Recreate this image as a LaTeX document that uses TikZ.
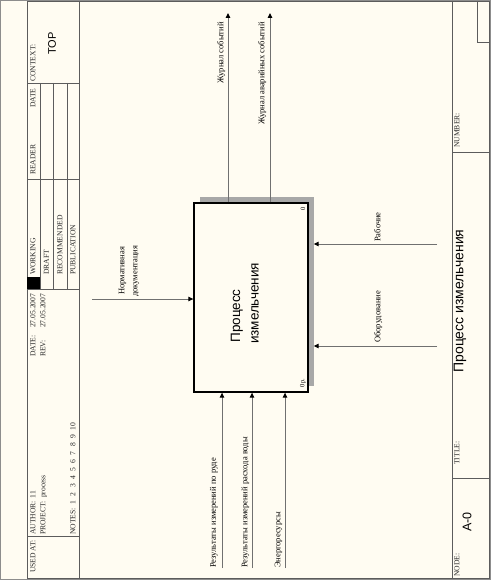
\documentclass[tikz,border=0pt]{standalone}
\usepackage{fontspec}
\setmainfont{Liberation Serif}
\newfontfamily\sansf{Liberation Sans}
\usetikzlibrary{arrows.meta}
\definecolor{bgc}{HTML}{FFFCF2}
\definecolor{framec}{HTML}{5C5C5C}
\definecolor{linec}{HTML}{707070}
\definecolor{shadc}{HTML}{A8A8A8}
\newcommand{\ns}{\hspace{4.4pt}}
\begin{document}
\begin{tikzpicture}[x=1pt,y=-1pt,
  frameline/.style={draw=framec,line width=0.8pt},
  ftext/.style={font=\fontsize{7.6}{9}\selectfont,rotate=90,anchor=mid west,inner sep=0pt,text=black!85},
  bigsans/.style={font=\sansf\fontsize{#1}{#1}\selectfont,rotate=90,inner sep=0pt},
  lbl/.style={font=\fontsize{8.5}{10}\selectfont,rotate=90,inner sep=0pt},
  arr/.style={draw=linec,line width=1pt,-{Triangle[length=5pt,width=4.5pt,color=black]}},
  actbox/.style={draw=black,line width=1.3pt,fill=bgc,minimum width=114pt,minimum height=189pt,inner sep=0pt},
  shadowbox/.style={fill=shadc,minimum width=114pt,minimum height=189pt,inner sep=0pt},
  corner/.style={font=\fontsize{6.5}{7}\selectfont,rotate=90,inner sep=0pt}
]
\useasboundingbox (0,0) rectangle (491,580);
\fill[bgc] (0,0) rectangle (491,580);
\draw[framec!70,line width=0.8pt] (0.4,0.4) rectangle (490.6,579.6);
% frame
\draw[frameline] (27,1) rectangle (489.5,578.5);
\draw[frameline] (79,1) -- (79,578.5);
\draw[frameline] (27,83) -- (79,83);
\draw[frameline] (27,179) -- (79,179);
\draw[frameline] (27,289) -- (79,289);
\draw[frameline] (27,536) -- (79,536);
\draw[frameline] (40,83) -- (40,289);
\draw[frameline] (53,83) -- (53,289);
\draw[frameline] (67,83) -- (67,289);
\fill[black] (27,277) rectangle (40,289);
\draw[frameline] (452,1) -- (452,578.5);
\draw[frameline] (452,152) -- (489.5,152);
\draw[frameline] (452,478) -- (489.5,478);
\draw[frameline] (477,1) -- (477,42) -- (489.5,42);
% header texts
\node[ftext] (usedat) at (33,573) {USED AT:};
\node[ftext] (author) at (33,535) {AUTHOR:\hspace{3pt}11};
\node[ftext] (project) at (43,535) {PROJECT:\hspace{3pt}process};
\node[ftext] (notes) at (73,535) {NOTES:\hspace{4pt}1\ns2\ns3\ns4\ns5\ns6\ns7\ns8\ns9\ns10};
\node[ftext] (datel) at (33,357) {DATE:};
\node[ftext] (datev) at (33,328) {27.05.2007};
\node[ftext] (revl) at (43,357) {REV:};
\node[ftext] (revv) at (43,328) {27.05.2007};
\node[ftext] (working) at (33,275) {WORKING};
\node[ftext] (draft) at (46.5,275) {DRAFT};
\node[ftext] (recom) at (60,275) {RECOMMENDED};
\node[ftext] (publ) at (73,275) {PUBLICATION};
\node[ftext] (reader) at (33,175) {READER};
\node[ftext] (rdate) at (33,108) {DATE};
\node[ftext] (context) at (33,82) {CONTEXT:};
\node[bigsans=11] (top) at (52,43.5) {TOP};
\node[ftext] (number) at (457,148) {NUMBER:};
\node[ftext] (titlel) at (457,465) {TITLE:};
\node[ftext] (nodel) at (457,577) {NODE:};
\node[bigsans=12.5] (nodev) at (467,522) {A-0};
\node[bigsans=14] (title) at (460,301) {Процесс измельчения};
% activity box
\node[shadowbox] (shd) at (256.5,291.5) {};
\node[actbox] (box) at (251,297.5) {};
\node[bigsans=13.5] (bl1) at (237,316) {Процесс};
\node[bigsans=13.5] (bl2) at (255,303.5) {измельчения};
\node[corner] (bnum) at (303,208.5) {0};
\node[corner] (bcost) at (303,383) {0р.};
% outputs
\coordinate (o1) at (228,13);
\coordinate (o2) at (270,13);
\draw[arr] (box.north -| o1) -- (o1);
\draw[arr] (box.north -| o2) -- (o2);
\node[lbl,anchor=mid east] (lo1) at (221,22) {Журнал событий};
\node[lbl,anchor=mid east] (lo2) at (262,22) {Журнал аварийных событий};
% inputs
\coordinate (i1) at (222,568);
\coordinate (i2) at (252,568);
\coordinate (i3) at (285,568);
\draw[arr] (i1) -- (box.south -| i1);
\draw[arr] (i2) -- (box.south -| i2);
\draw[arr] (i3) -- (box.south -| i3);
\node[lbl,anchor=mid west] (li1) at (213.5,568) {Результаты измерений по руде};
\node[lbl,anchor=mid west] (li2) at (245,568) {Результаты измерений расхода воды};
\node[lbl,anchor=mid west] (li3) at (278,568) {Энергоресурсы};
% control
\coordinate (c1) at (92,299);
\draw[arr] (c1) -- (box.west |- c1);
\node[lbl,anchor=mid west] (lc1a) at (122,295) {Нормативная};
\node[lbl,anchor=mid west] (lc1b) at (135,297) {документация};
% mechanisms
\coordinate (m1) at (437,244);
\coordinate (m2) at (437,346);
\draw[arr] (m1) -- (shd.east |- m1);
\draw[arr] (m2) -- (shd.east |- m2);
\node[lbl,anchor=mid west] (lm1) at (378,242) {Рабочие};
\node[lbl,anchor=mid west] (lm2) at (378,343) {Оборудование};
\end{tikzpicture}
\end{document}
